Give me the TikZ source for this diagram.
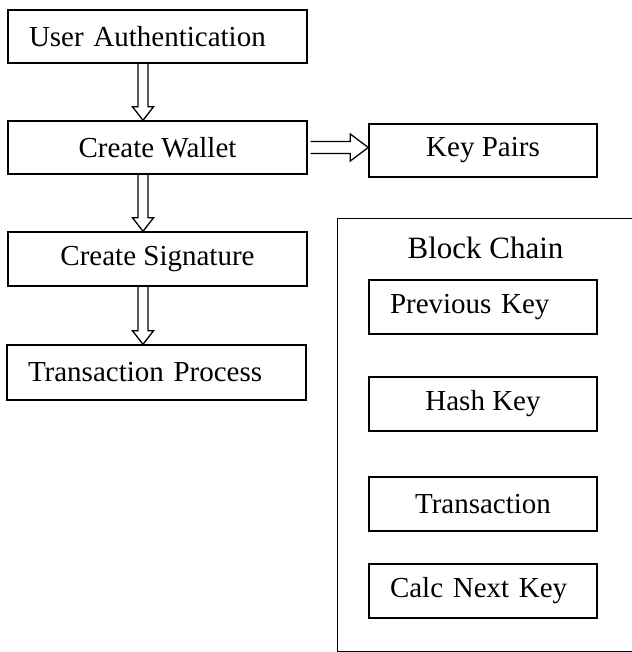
\documentclass[tikz,border=0pt]{standalone}
\usepackage{fontspec}
\setmainfont{Liberation Serif}
\usetikzlibrary{calc}

% hollow arrow straight down from #1 to #2
\newcommand{\downblock}[2]{%
  \coordinate (s) at ($(#1.south)+(-14.5pt,0)$);
  \coordinate (e) at (s |- #2.north);
  \draw[hollow] ($(s)+(-5pt,0)$) -- ($(e)+(-5pt,13.5pt)$) -- ($(e)+(-10.5pt,13.5pt)$)
    -- (e) -- ($(e)+(10.5pt,13.5pt)$) -- ($(e)+(5pt,13.5pt)$) -- ($(s)+(5pt,0)$);}

\begin{document}
\begin{tikzpicture}[
  x=1pt, y=-1pt,
  every node/.style={font=\fontsize{29}{34}\selectfont},
  stepbox/.style={draw, line width=1.4pt, minimum width=299pt, minimum height=53pt, inner sep=0pt},
  keybox/.style={draw, line width=1.4pt, minimum width=228pt, minimum height=54pt, inner sep=0pt},
  lefttext/.style={align=left, text width=#1, inner xsep=21pt},
  hollow/.style={draw, line width=1.3pt, line join=miter}
]
\useasboundingbox (0,0) rectangle (631,652);

\node[stepbox, lefttext=257pt] (auth) at (157.5,36.5) {User Authentication};
\node[stepbox] (wallet) at (157.5,147.5) {Create Wallet};
\node[stepbox, minimum height=54pt] (sign) at (157.5,259) {Create Signature};
\node[stepbox, lefttext=257pt, minimum width=297pt, minimum height=55pt] (trans) at (156.5,372.5) {Transaction Process};

\node[keybox, minimum height=53pt] (pairs) at (483,150.5) {Key Pairs};

% block chain frame, right side runs off the page
\node[draw, line width=1.4pt, anchor=north west, minimum width=310pt, minimum height=433pt] (chain) at (337,218) {};
\node[font=\fontsize{31}{36}\selectfont] (title) at (485.5,248) {Block Chain};
\node[keybox, lefttext=186pt] (prev) at (483,307) {Previous Key};
\node[keybox] (hash) at (483,404) {Hash Key};
\node[keybox] (tx) at (483,504) {Transaction};
\node[keybox, lefttext=186pt] (next) at (483,591) {Calc Next Key};

\downblock{auth}{wallet}
\downblock{wallet}{sign}
\downblock{sign}{trans}

\coordinate (hs) at ($(wallet.east)+(3pt,0)$);
\coordinate (he) at (hs -| pairs.west);
\draw[hollow] ($(hs)+(0,6pt)$) -- ($(he)+(-18pt,6pt)$) -- ($(he)+(-18pt,13.5pt)$)
  -- (he) -- ($(he)+(-18pt,-13.5pt)$) -- ($(he)+(-18pt,-6pt)$) -- ($(hs)+(0,-6pt)$);

\end{tikzpicture}
\end{document}
